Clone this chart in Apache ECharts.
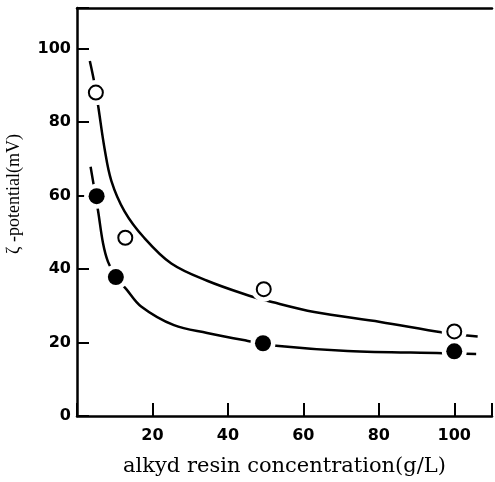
<!DOCTYPE html>
<html>
<head>
<meta charset="utf-8">
<script src="https://cdn.jsdelivr.net/npm/echarts@6/dist/echarts.min.js"></script>
<style>
  html, body { margin: 0; padding: 0; background: #fff; }
  #chart { width: 495px; height: 482px; }
</style>
</head>
<body>
<div id="chart"></div>
<script>
// measured points
const openX = [5, 12.8, 49.5, 100];
const openY = [88, 48.5, 34.5, 23];
const filledX = [5.2, 10.3, 49.3, 100];
const filledY = [59.8, 37.8, 19.8, 17.6];

// fitted curves
const upperCurveX = [3.4, 4.5, 5.6, 7.3, 9.1, 12.6, 17.8, 25, 34.5, 46.3, 50.2, 62.9, 80.4, 97, 106.2];
const upperCurveY = [96.6, 91.2, 84.4, 72.8, 64, 55.7, 48.5, 41.5, 36.8, 32.5, 31.4, 28.3, 25.6, 22.7, 21.6];
const lowerCurveX = [3.6, 4.5, 5.6, 6.9, 8.2, 10.3, 13, 17, 25.7, 34.5, 45, 52.8, 71.7, 97, 105.8];
const lowerCurveY = [67.8, 62.4, 55.7, 47, 42, 37.8, 34.6, 29.8, 24.7, 22.6, 20.5, 19.1, 17.7, 17.1, 16.9];

const xTicks = [20, 40, 60, 80, 100];
const yTicks = [0, 20, 40, 60, 80, 100];

function pairs(xs, ys) {
  return xs.map((x, i) => [x, ys[i]]);
}

const chart = echarts.init(document.getElementById('chart'));
const labelFont = {
  color: '#000',
  fontFamily: 'DejaVu Sans, sans-serif',
  fontWeight: 'bold',
  fontSize: 16
};

chart.setOption({
  animation: false,
  grid: { left: 77, right: 0, top: 8, bottom: 62 },
  xAxis: [
    {
      type: 'value',
      min: 0,
      max: 110,
      interval: 20,
      name: 'alkyd resin concentration(g/L)',
      nameLocation: 'middle',
      nameGap: 40,
      nameTextStyle: {
        color: '#000',
        fontFamily: 'DejaVu Serif, serif',
        fontSize: 21
      },
      axisLine: { lineStyle: { color: '#000', width: 2.5 } },
      axisTick: { inside: true, length: 13, lineStyle: { color: '#000', width: 2 } },
      axisLabel: Object.assign({
        margin: 12,
        formatter: v => (xTicks.indexOf(v) >= 0 ? String(v) : '')
      }, labelFont),
      splitLine: { show: false }
    },
    {
      type: 'value',
      position: 'top',
      min: 0,
      max: 110,
      axisLine: { show: true, onZero: false, lineStyle: { color: '#000', width: 2.5 } },
      axisTick: { show: false },
      axisLabel: { show: false },
      splitLine: { show: false }
    }
  ],
  yAxis: {
    type: 'value',
    min: 0,
    max: 111,
    interval: 20,
    axisLine: { show: true, lineStyle: { color: '#000', width: 2.5 } },
    axisTick: { inside: true, length: 12, lineStyle: { color: '#000', width: 2 } },
    axisLabel: Object.assign({
      margin: 6,
      formatter: v => (yTicks.indexOf(v) >= 0 ? String(v) : '')
    }, labelFont),
    splitLine: { show: false }
  },
  graphic: [
    {
      type: 'text',
      x: 5,
      y: 194,
      rotation: Math.PI / 2,
      style: {
        text: 'ζ -potential(mV)',
        fill: '#000',
        font: '18px "Liberation Serif", "Times New Roman", serif',
        align: 'center',
        verticalAlign: 'top'
      }
    }
  ],
  series: [
    {
      type: 'line',
      data: pairs(upperCurveX, upperCurveY),
      smooth: 0.35,
      showSymbol: false,
      lineStyle: { color: '#000', width: 2.5 },
      z: 2
    },
    {
      type: 'line',
      data: pairs(lowerCurveX, lowerCurveY),
      smooth: 0.35,
      showSymbol: false,
      lineStyle: { color: '#000', width: 2.5 },
      z: 2
    },
    // white halo so the curves stop short of each marker
    {
      type: 'scatter',
      data: pairs(openX, openY).concat(pairs(filledX, filledY)),
      symbolSize: 25,
      itemStyle: { color: '#fff', opacity: 1 },
      z: 3
    },
    {
      type: 'scatter',
      data: pairs(openX, openY),
      symbolSize: 14,
      itemStyle: { color: '#fff', borderColor: '#000', borderWidth: 2, opacity: 1 },
      z: 4
    },
    {
      type: 'scatter',
      data: pairs(filledX, filledY),
      symbolSize: 16,
      itemStyle: { color: '#000', opacity: 1 },
      z: 4
    }
  ]
});
</script>
</body>
</html>
